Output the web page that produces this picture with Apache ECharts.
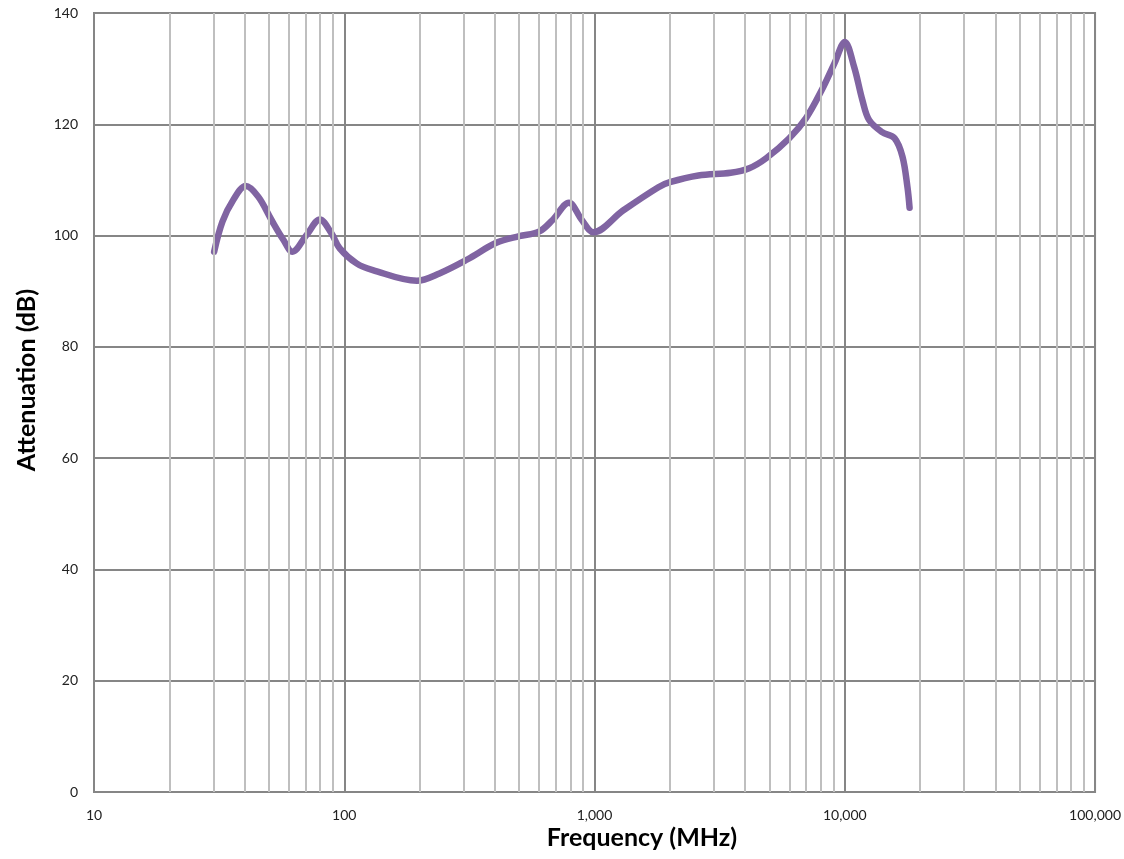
<!DOCTYPE html>
<html>
<head>
<meta charset="utf-8">
<script src="https://cdn.jsdelivr.net/npm/echarts@6/dist/echarts.min.js"></script>
<style>
html,body{margin:0;padding:0;background:#fff;}
#chart{width:1124px;height:859px;}
</style>
</head>
<body>
<div id="chart"></div>
<script>
// Frequency (MHz) and attenuation (dB)
const freqMHz = [30.2, 32.6, 36, 40.4, 45.3, 51.2, 57, 62.1, 70.7, 79.9, 88.9, 95.9, 112, 130, 195, 240, 310, 405, 500, 600, 680, 790, 890, 990, 1300, 1800, 2000, 2600, 3500, 4150, 4850, 6000, 7000, 8100, 9100, 10000, 10900, 11750, 12500, 14100, 15800, 17000, 17800, 18150];
const attenuationDb = [97.1, 102.5, 106.4, 108.9, 107.0, 102.8, 99.3, 97.1, 100.1, 102.9, 100.4, 97.7, 95.0, 93.8, 91.9, 93.2, 95.7, 98.7, 99.9, 100.7, 102.8, 105.9, 102.8, 100.6, 104.5, 108.7, 109.6, 110.8, 111.3, 112.1, 113.9, 117.5, 121.1, 126.2, 131.0, 134.8, 130.3, 124.4, 120.8, 118.6, 117.5, 114.2, 108.7, 105];
const xTickLabels = ['10', '100', '1,000', '10,000', '100,000'];
const minorGridFreqs = [20,30,40,50,60,70,80,90,200,300,400,500,600,700,800,900,2000,3000,4000,5000,6000,7000,8000,9000,20000,30000,40000,50000,60000,70000,80000,90000];

const chart = echarts.init(document.getElementById('chart'));
const FONT = 'Lato, "Open Sans", sans-serif';
const lineData = freqMHz.map((f, i) => [f, attenuationDb[i]]);

chart.setOption({
  animation: false,
  backgroundColor: '#fff',
  grid: {left: 94, right: 28, top: 13, bottom: 67, show: true, borderColor: '#868686', borderWidth: 2, backgroundColor: 'transparent'},
  xAxis: {
    type: 'log', logBase: 10, min: 10, max: 100000,
    axisLine: {show: false},
    axisTick: {show: false},
    splitLine: {show: true, lineStyle: {color: '#868686', width: 2}},
    minorSplitLine: {show: false},
    axisLabel: {
      margin: 16, fontSize: 14, color: '#222', fontFamily: FONT,
      formatter: function (v) {
        const e = Math.round(Math.log10(v)) - 1;
        return xTickLabels[e] !== undefined ? xTickLabels[e] : '';
      }
    }
  },
  yAxis: {
    type: 'value', min: 0, max: 140, interval: 20,
    axisLine: {show: false},
    axisTick: {show: false},
    splitLine: {show: true, lineStyle: {color: '#868686', width: 2}},
    axisLabel: {margin: 16, fontSize: 14, color: '#222', fontFamily: FONT}
  },
  graphic: [
    {type: 'text', x: 642, y: 838, style: {text: 'Frequency (MHz)', font: 'bold 25px ' + FONT, fill: '#000', textAlign: 'center', textVerticalAlign: 'middle'}},
    {type: 'text', x: 27, y: 380, rotation: Math.PI / 2, style: {text: 'Attenuation (dB)', font: 'bold 25px ' + FONT, fill: '#000', textAlign: 'center', textVerticalAlign: 'middle'}}
  ],
  series: [
    {
      type: 'line', z: 1, data: [], silent: true,
      markLine: {
        silent: true, symbol: ['none', 'none'], label: {show: false},
        lineStyle: {color: '#bfbfbf', width: 2, type: 'solid'},
        data: minorGridFreqs.map(f => ({xAxis: f}))
      }
    },
    {
      type: 'line', z: 3, data: lineData, smooth: 0.35, showSymbol: false,
      lineStyle: {color: '#8064A2', width: 6.5, cap: 'round', join: 'round'}
    }
  ]
});
</script>
</body>
</html>
